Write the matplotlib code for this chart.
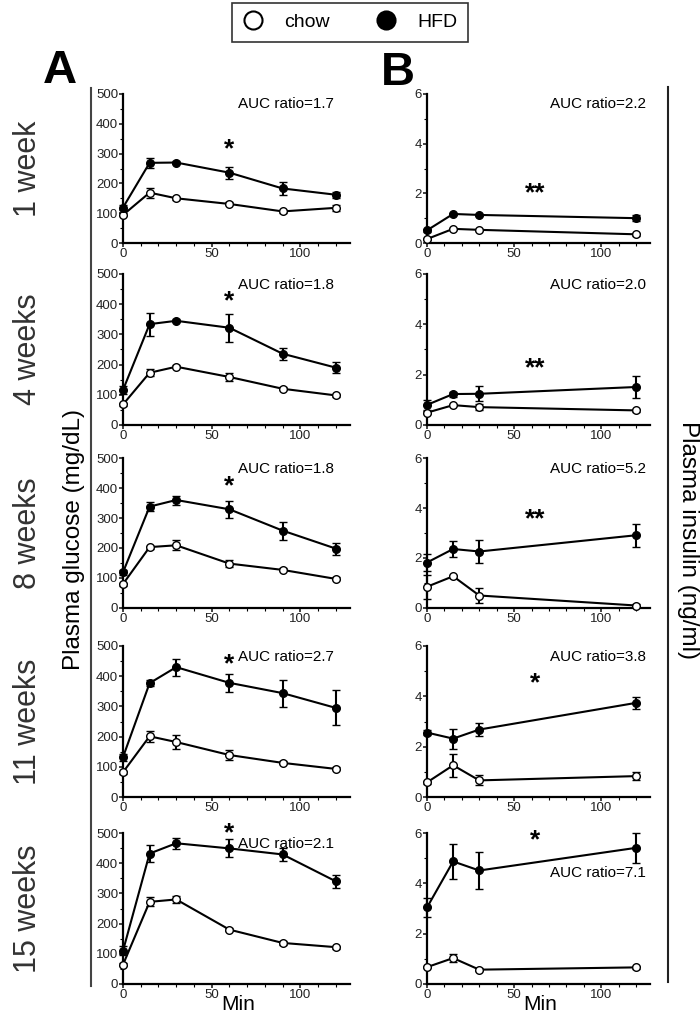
import numpy as np
import matplotlib
matplotlib.use("Agg")
import matplotlib.pyplot as plt
from matplotlib.lines import Line2D
from matplotlib.transforms import blended_transform_factory

plt.rcParams['font.family'] = ['Liberation Sans', 'DejaVu Sans']

# Datos
weeks = ["1 week", "4 weeks", "8 weeks", "11 weeks", "15 weeks"]

# Panel A: glucosa (mg/dL)
t_glu = [0, 15, 30, 60, 90, 120]
glu_hfd = [
    [119, 269, 270, 236, 183, 162],
    [116, 334, 345, 322, 236, 190],
    [119, 338, 360, 329, 258, 198],
    [132, 377, 430, 378, 344, 295],
    [110, 432, 466, 449, 429, 340],
]
glu_hfd_err = [
    [8, 16, 5, 20, 22, 10],
    [13, 38, 5, 47, 20, 18],
    [8, 15, 15, 28, 30, 20],
    [12, 10, 28, 30, 45, 58],
    [15, 27, 18, 30, 22, 22],
]
glu_chow = [
    [94, 169, 150, 131, 106, 118],
    [68, 173, 193, 159, 120, 98],
    [80, 203, 209, 148, 127, 97],
    [82, 201, 182, 139, 113, 93],
    [64, 272, 280, 180, 136, 122],
]
glu_chow_err = [
    [5, 17, 5, 5, 5, 10],
    [5, 12, 5, 14, 5, 5],
    [5, 5, 17, 12, 5, 5],
    [5, 18, 22, 18, 5, 5],
    [5, 15, 13, 5, 8, 5],
]
auc_glu = ["AUC ratio=1.7", "AUC ratio=1.8", "AUC ratio=1.8", "AUC ratio=2.7", "AUC ratio=2.1"]
star_glu = [315, 410, 405, 439, 500]

# Panel B: insulina (ng/ml)
t_ins = [0, 15, 30, 120]
ins_hfd = [
    [0.51, 1.17, 1.13, 1.00],
    [0.80, 1.23, 1.24, 1.51],
    [1.82, 2.36, 2.26, 2.91],
    [2.56, 2.32, 2.68, 3.74],
    [3.04, 4.87, 4.51, 5.41],
]
ins_hfd_err = [
    [0.05, 0.05, 0.05, 0.12],
    [0.20, 0.10, 0.30, 0.45],
    [0.35, 0.32, 0.45, 0.45],
    [0.10, 0.40, 0.25, 0.25],
    [0.37, 0.68, 0.72, 0.60],
]
ins_chow = [
    [0.16, 0.57, 0.53, 0.35],
    [0.49, 0.79, 0.71, 0.58],
    [0.85, 1.27, 0.50, 0.10],
    [0.58, 1.26, 0.66, 0.83],
    [0.67, 1.03, 0.57, 0.66],
]
ins_chow_err = [
    [0.05, 0.05, 0.05, 0.05],
    [0.05, 0.05, 0.12, 0.05],
    [0.47, 0.05, 0.30, 0.05],
    [0.05, 0.45, 0.20, 0.17],
    [0.05, 0.15, 0.05, 0.05],
]
auc_ins = ["AUC ratio=2.2", "AUC ratio=2.0", "AUC ratio=5.2", "AUC ratio=3.8", "AUC ratio=7.1"]
star_ins = ["**", "**", "**", "*", "*"]
star_ins_y = [2.0, 2.25, 3.55, 4.5, 5.7]

W, H = 700, 1017
fig = plt.figure(figsize=(W / 100, H / 100), dpi=100)

rows_px = [(94, 243), (274, 425), (458, 608), (646, 797), (833, 984)]


def rect(x0, x1, top, bot):
    return [x0 / W, 1 - bot / H, (x1 - x0) / W, (bot - top) / H]


def style(ax, ymax, ystep, yminor):
    ax.set_xlim(0, 128)
    ax.set_ylim(0, ymax)
    for s in ['top', 'right']:
        ax.spines[s].set_visible(False)
    for s in ['left', 'bottom']:
        ax.spines[s].set_linewidth(1.6)
    ax.set_xticks([0, 50, 100])
    ax.set_xticks(np.arange(0, 121, 10), minor=True)
    ax.set_yticks(np.arange(0, ymax + 0.01, ystep))
    ax.set_yticks(np.arange(yminor, ymax, ystep), minor=True)
    ax.tick_params(which='major', length=3, width=1.2, pad=0.5, labelsize=9.5, colors='#222222')
    ax.tick_params(which='minor', length=2, width=0.8)


def draw(ax, t, y, e, face):
    ax.errorbar(t, y, yerr=e, color='black', lw=1.5, marker='o', ms=5.5,
                mfc=face, mec='black', mew=1.0, capsize=3, capthick=1.5,
                elinewidth=1.5, clip_on=False, zorder=3)


for i in range(5):
    top, bot = rows_px[i]

    # Panel A
    axA = fig.add_axes(rect(123, 350, top, bot))
    style(axA, 500, 100, 50)
    draw(axA, t_glu, glu_chow[i], glu_chow_err[i], 'white')
    draw(axA, t_glu, glu_hfd[i], glu_hfd_err[i], 'black')
    axA.text(0.93, 0.93, auc_glu[i], transform=axA.transAxes, ha='right', va='center', fontsize=11)
    axA.text(60, star_glu[i], "*", ha='center', va='center', fontsize=19, fontweight='bold')

    # Panel B
    axB = fig.add_axes(rect(427, 650, top, bot))
    style(axB, 6, 2, 1)
    draw(axB, t_ins, ins_chow[i], ins_chow_err[i], 'white')
    draw(axB, t_ins, ins_hfd[i], ins_hfd_err[i], 'black')
    if i == 4:
        axB.text(0.98, 4.4, auc_ins[i], transform=axB.get_yaxis_transform(), ha='right', va='center', fontsize=11)
    else:
        axB.text(0.98, 0.93, auc_ins[i], transform=axB.transAxes, ha='right', va='center', fontsize=11)
    axB.text(62, star_ins_y[i], star_ins[i], ha='center', va='center', fontsize=19, fontweight='bold')

    if i == 4:
        for ax in (axA, axB):
            tr = blended_transform_factory(ax.transData, fig.transFigure)
            ax.text(65, 1 - 1004 / H, "Min", transform=tr, ha='center', va='center', fontsize=15)

    # Etiqueta de semanas
    fig.text(28 / W, 1 - (top + bot) / 2 / H, weeks[i], rotation=90, ha='center', va='center',
             fontsize=22, color='#333333')

# Líneas verticales y etiquetas de ejes
fig.add_artist(Line2D([91 / W, 91 / W], [1 - 88 / H, 1 - 986 / H], color='#444444', lw=1.5))
fig.add_artist(Line2D([668 / W, 668 / W], [1 - 87 / H, 1 - 982 / H], color='#222222', lw=1.5))
fig.text(74 / W, 1 - 540 / H, "Plasma glucose (mg/dL)", rotation=90, ha='center', va='center', fontsize=17.5)
fig.text(688 / W, 1 - 540 / H, "Plasma insulin (ng/ml)", rotation=270, ha='center', va='center', fontsize=17.5)

fig.text(60 / W, 1 - 71 / H, "A", ha='center', va='center', fontsize=34, fontweight='bold')
fig.text(398 / W, 1 - 73 / H, "B", ha='center', va='center', fontsize=34, fontweight='bold')

# Leyenda
handles = [Line2D([], [], ls='none', marker='o', ms=13, mfc='white', mec='black', mew=1.5),
           Line2D([], [], ls='none', marker='o', ms=13, mfc='black', mec='black', mew=1.5)]
leg = fig.legend(handles, ["chow", "HFD"], loc='center', bbox_to_anchor=(350 / W, 1 - 22 / H),
                 ncol=2, frameon=True, fontsize=14, fancybox=False, edgecolor='black',
                 columnspacing=2.4, handlelength=1.0, handletextpad=1.1, borderpad=0.55)
leg.get_frame().set_linewidth(1.2)

fig.savefig("out.png", dpi=100)
